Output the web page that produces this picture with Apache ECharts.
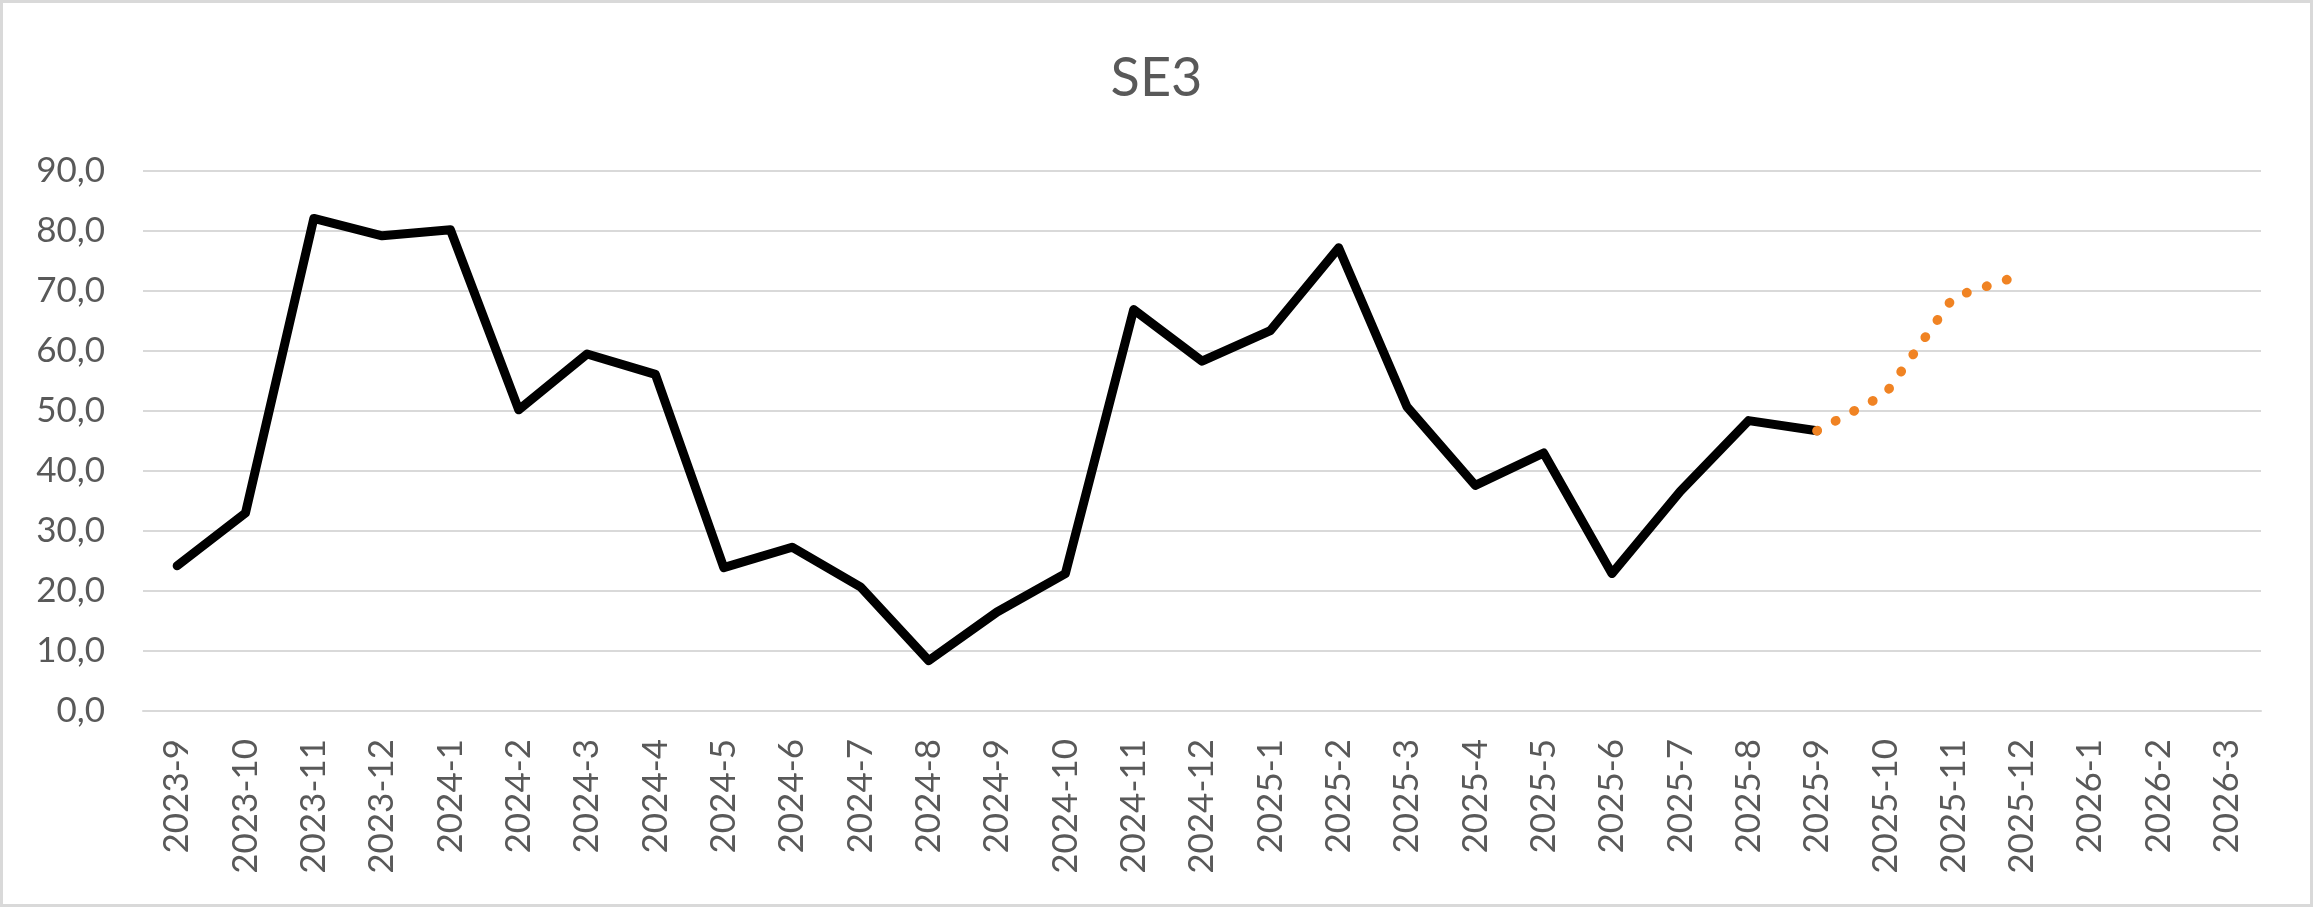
<!DOCTYPE html>
<html>
<head>
<meta charset="utf-8">
<title>SE3</title>
<script src="https://cdn.jsdelivr.net/npm/echarts@6/dist/echarts.min.js"></script>
<style>
  html, body { margin: 0; padding: 0; background: #fff; }
  #chart { width: 2313px; height: 907px; box-sizing: border-box; border: 3px solid #d9d9d9; }
</style>
</head>
<body>
<div id="chart"></div>
<script>
var months = ['2023-9', '2023-10', '2023-11', '2023-12', '2024-1', '2024-2', '2024-3', '2024-4',
    '2024-5', '2024-6', '2024-7', '2024-8', '2024-9', '2024-10', '2024-11', '2024-12',
    '2025-1', '2025-2', '2025-3', '2025-4', '2025-5', '2025-6', '2025-7', '2025-8',
    '2025-9', '2025-10', '2025-11', '2025-12', '2026-1', '2026-2', '2026-3'];

// observed monthly values
var actual = [24.2, 33.0, 82.1, 79.2, 80.2, 50.2, 59.5, 56.1,
    23.9, 27.3, 20.7, 8.4, 16.5, 22.9, 66.9, 58.3,
    63.4, 77.2, 50.7, 37.6, 43.0, 22.9, 36.6, 48.4,
    46.7, null, null, null, null, null, null];

// forecast, dotted
var forecast = [null, null, null, null, null, null, null, null,
    null, null, null, null, null, null, null, null,
    null, null, null, null, null, null, null, null,
    46.7, 52.8, 69.0, 72.7, null, null, null];

var yMin = 0, yMax = 90, yStep = 10;

var font = 'Lato, "Open Sans", sans-serif';
var grey = '#595959';

var option = {
    animation: false,
    title: {
        text: 'SE3',
        left: 'center',
        top: 44,
        textStyle: { fontFamily: font, fontSize: 54, fontWeight: 'normal', color: grey }
    },
    grid: {
        left: 140,
        right: 49,
        top: 168,
        bottom: 193,
        containLabel: false
    },
    xAxis: {
        type: 'category',
        data: months,
        boundaryGap: true,
        axisLine: { show: true, lineStyle: { color: '#d9d9d9', width: 2 } },
        axisTick: { show: false },
        axisLabel: {
            interval: 0,
            rotate: 90,
            margin: 28,
            color: grey,
            fontFamily: font,
            fontSize: 35
        }
    },
    yAxis: {
        type: 'value',
        min: yMin,
        max: yMax,
        interval: yStep,
        axisLine: { show: false },
        axisTick: { show: false },
        splitLine: { lineStyle: { color: '#d9d9d9', width: 2 } },
        axisLabel: {
            margin: 38,
            color: grey,
            fontFamily: font,
            fontSize: 35,
            formatter: function (v) { return v.toFixed(1).replace('.', ','); }
        }
    },
    series: [
        {
            name: 'SE3',
            type: 'line',
            data: actual,
            symbol: 'none',
            connectNulls: false,
            lineStyle: { color: '#000', width: 9, join: 'round', cap: 'round' }
        },
        {
            name: 'Prognos',
            type: 'line',
            data: forecast,
            symbol: 'none',
            connectNulls: false,
            lineStyle: { color: '#f08323', width: 9.5, type: [0.5, 20.5], cap: 'round', join: 'round' }
        }
    ]
};

var myChart = echarts.init(document.getElementById('chart'));
myChart.setOption(option);
</script>
</body>
</html>
